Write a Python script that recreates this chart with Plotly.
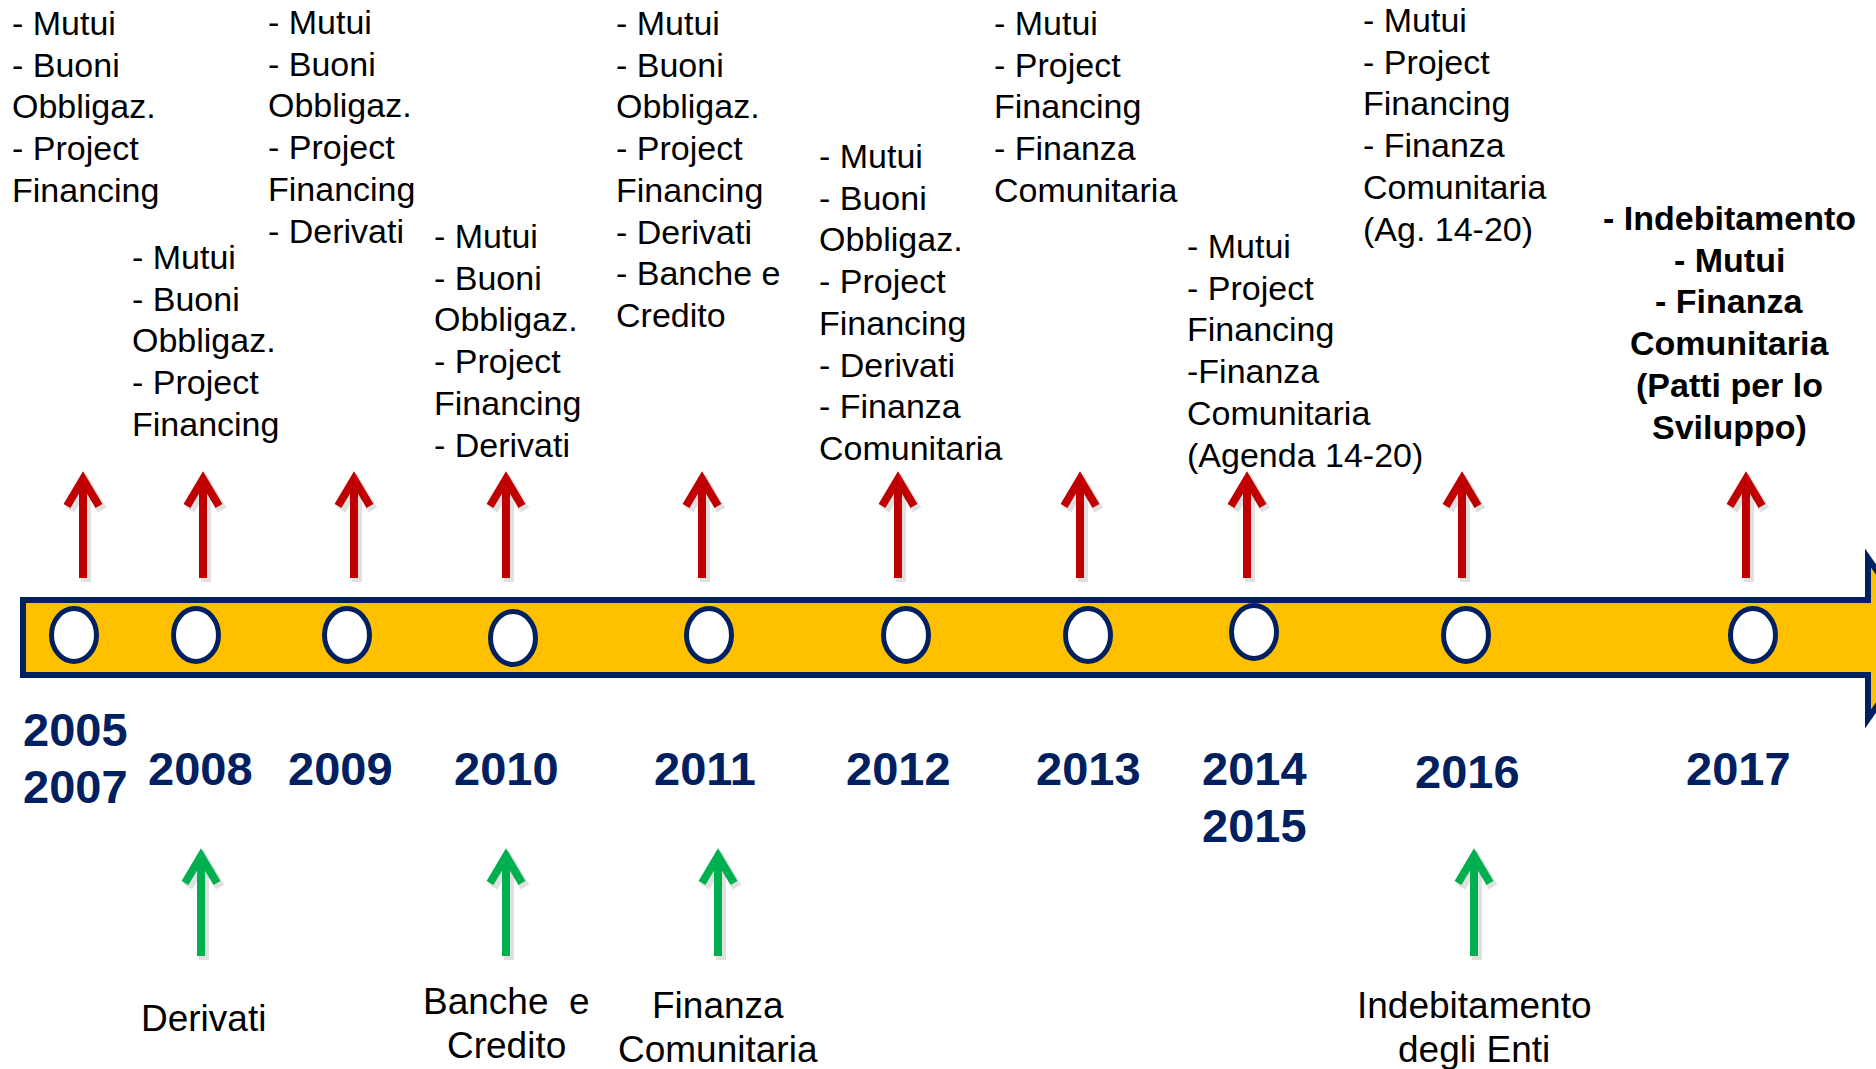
import plotly.graph_objects as go

# ---------------- data ----------------
year_labels = [["2005", "2007"], ["2008"], ["2009"], ["2010"], ["2011"], ["2012"],
               ["2013"], ["2014", "2015"], ["2016"], ["2017"]]

top_texts = [
    ["- Mutui", "- Buoni", "Obbligaz.", "- Project", "Financing"],
    ["- Mutui", "- Buoni", "Obbligaz.", "- Project", "Financing"],
    ["- Mutui", "- Buoni", "Obbligaz.", "- Project", "Financing", "- Derivati"],
    ["- Mutui", "- Buoni", "Obbligaz.", "- Project", "Financing", "- Derivati"],
    ["- Mutui", "- Buoni", "Obbligaz.", "- Project", "Financing", "- Derivati", "- Banche e", "Credito"],
    ["- Mutui", "- Buoni", "Obbligaz.", "- Project", "Financing", "- Derivati", "- Finanza", "Comunitaria"],
    ["- Mutui", "- Project", "Financing", "- Finanza", "Comunitaria"],
    ["- Mutui", "- Project", "Financing", "-Finanza", "Comunitaria", "(Agenda 14-20)"],
    ["- Mutui", "- Project", "Financing", "- Finanza", "Comunitaria", "(Ag. 14-20)"],
    ["- Indebitamento", "- Mutui", "- Finanza", "Comunitaria", "(Patti per lo", "Sviluppo)"],
]

# new instruments introduced (green arrows): year -> text lines
new_items_years = ["2008", "2010", "2011", "2016"]
new_items_texts = [["Derivati"], ["Banche  e", "Credito"], ["Finanza", "Comunitaria"],
                   ["Indebitamento", "degli Enti"]]

# ---------------- layout (pixel positions) ----------------
W, H = 1876, 1069
NAVY = "#002060"
RED = "#C00000"
GREEN = "#00B050"
YELLOW = "#FFC000"
FONT = "Liberation Sans, Arial, sans-serif"

circle_x = [74, 196, 347, 513, 709, 906, 1088, 1254, 1466, 1753]
circle_y = [635, 635, 635, 638, 635, 635, 635, 632, 635, 635]
red_arrow_x = [83, 203, 354, 506, 702, 898, 1080, 1247, 1462, 1746]
year_x = [75, 200, 340, 506, 705, 898, 1088, 1254, 1467, 1738]
year_y = [729, 768, 768, 768, 768, 768, 768, 768, 771, 768]
year_lh = 57

top_x = [10, 130, 266, 432, 614, 817, 992, 1185, 1361, 1729]
top_y = [23, 257, 22, 236, 23, 156, 23, 246, 20, 218]
top_lh = 41.7

green_x = [201, 506, 718, 1474]
bottom_x = [203, 506, 718, 1474]
bottom_y = [1018, 1001, 1005, 1005]
bottom_lh = 44

fig = go.Figure()

# timeline bar with arrow head
fig.add_shape(type="path",
              path="M23,600 H1868 V558 L1924,638 L1868,719 V675 H23 Z",
              xref="x", yref="y", fillcolor=YELLOW,
              line=dict(color=NAVY, width=6), layer="below")

# circles
for cx, cy in zip(circle_x, circle_y):
    fig.add_shape(type="circle", xref="x", yref="y",
                  x0=cx - 22.5, x1=cx + 22.5, y0=cy - 26.5, y1=cy + 26.5,
                  fillcolor="white", line=dict(color=NAVY, width=5))


def arrow_xy(xs, tip, head_end, bottom, half):
    X, Y = [], []
    for x in xs:
        X += [x, x, None, x - half, x, x + half, None]
        Y += [bottom, tip + 2, None, head_end, tip, head_end, None]
    return X, Y


for xs, tip, he, bt, col in [(red_arrow_x, 479, 506, 578, RED), (green_x, 856, 883, 956, GREEN)]:
    X, Y = arrow_xy(xs, tip, he, bt, 16)
    fig.add_trace(go.Scatter(x=[v + 3 if v is not None else None for v in X],
                             y=[v + 4 if v is not None else None for v in Y],
                             mode="lines", line=dict(color="rgba(0,0,0,0.12)", width=10),
                             hoverinfo="skip", showlegend=False))
    fig.add_trace(go.Scatter(x=X, y=Y, mode="lines", line=dict(color=col, width=8),
                             hoverinfo="skip", showlegend=False))

# year labels
for lines, x, y in zip(year_labels, year_x, year_y):
    for i, t in enumerate(lines):
        fig.add_annotation(x=x, y=y + i * year_lh, text=f"<b>{t}</b>", showarrow=False,
                           xanchor="center", yanchor="middle",
                           font=dict(family=FONT, size=47, color=NAVY))

# top texts
for k, (lines, x, y) in enumerate(zip(top_texts, top_x, top_y)):
    last = k == len(top_texts) - 1
    for i, t in enumerate(lines):
        fig.add_annotation(x=x, y=y + i * top_lh,
                           text=f"<b>{t}</b>" if last else t, showarrow=False,
                           xanchor="center" if last else "left", yanchor="middle",
                           font=dict(family=FONT, size=34, color="black"))

# bottom texts
for lines, x, y in zip(new_items_texts, bottom_x, bottom_y):
    for i, t in enumerate(lines):
        fig.add_annotation(x=x, y=y + i * bottom_lh, text=t.replace("  ", "&nbsp; "),
                           showarrow=False, xanchor="center", yanchor="middle",
                           font=dict(family=FONT, size=37, color="black"))

fig.update_layout(width=W, height=H, margin=dict(l=0, r=0, t=0, b=0),
                  paper_bgcolor="white", plot_bgcolor="white", showlegend=False,
                  xaxis=dict(range=[0, W], visible=False, fixedrange=True),
                  yaxis=dict(range=[H, 0], visible=False, fixedrange=True))

fig.write_html("out.html", config={"displayModeBar": False},
               post_script="document.body.style.margin='0';document.body.style.overflow='hidden';")
